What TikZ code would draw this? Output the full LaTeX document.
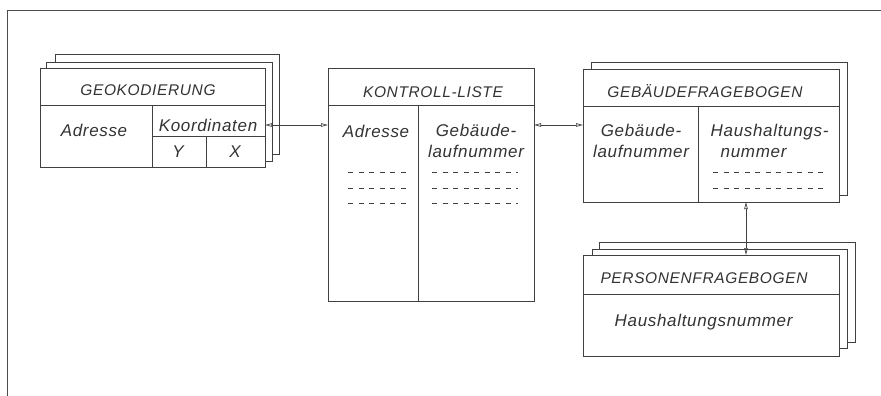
\documentclass[tikz,border=0pt]{standalone}
\usepackage{fontspec}
\newfontfamily\hand{Liberation Sans}[LetterSpace=4]
\usetikzlibrary{arrows.meta}

\begin{document}
\begin{tikzpicture}[x=1pt,y=-1pt,
    line width=0.7pt, draw=black!75,
    box/.style={draw=black!75, anchor=north west, outer sep=0pt, inner sep=0pt},
    sheet/.style={draw=black!75},
    head/.style={font=\hand\itshape\fontsize{15.5}{18}\selectfont, text=black!80},
    cell/.style={font=\hand\itshape\fontsize{17}{21}\selectfont, text=black!80, align=center},
    dots/.style={draw=black!75, dash pattern=on 5pt off 5.5pt},
    link/.style={draw=black!75, {Triangle[open,length=7pt,width=3.5pt]}-{Triangle[open,length=7pt,width=3.5pt]}}]
  \useasboundingbox (0,0) rectangle (881,396);
  \draw[black!70, line width=1pt] (881,11) -- (7,11) -- (7,396);

  % Geokodierung
  \draw[sheet] (55,62) -- (55,54) -- (279,54) -- (279,154) -- (272,154);
  \draw[sheet] (46,68) -- (46,62) -- (272,62) -- (272,161) -- (265,161);
  \node[box, minimum width=225pt, minimum height=99pt] (geo) at (40,68) {};
  \draw (40,105) -- (265,105);
  \draw (152,105) -- (152,167);
  \draw (152,136) -- (265,136);
  \draw (206,136) -- (206,167);
  \node[head] (geohead) at (148,90) {GEOKODIERUNG};
  \node[cell] (geoadr) at (94,130) {Adresse};
  \node[cell] (koord) at (208,125) {Koordinaten};
  \node[cell] (koy) at (178,152) {Y};
  \node[cell] (kox) at (235,152) {X};

  % Kontroll-Liste
  \node[box, minimum width=206pt, minimum height=233pt] (kon) at (328,68) {};
  \draw (328,105) -- (534,105);
  \draw (418,105) -- (418,301);
  \node[head] (konhead) at (433,92) {KONTROLL-LISTE};
  \node[cell] (konadr) at (376,131) {Adresse};
  \node[cell] (konlfd) at (476,141) {Gebäude-\\laufnummer};
  \foreach \y in {172,188,203} {
    \draw[dots] (348,\y) -- (407,\y);
    \draw[dots] (432,\y) -- (518,\y);
  }

  % Gebaeudefragebogen
  \draw[sheet] (591,69) -- (591,62) -- (847,62) -- (847,195) -- (839,195);
  \node[box, minimum width=256pt, minimum height=133pt] (geb) at (583,69) {};
  \draw (583,106) -- (839,106);
  \draw (698,106) -- (698,202);
  \node[head] (gebhead) at (705,91) {GEBÄUDEFRAGEBOGEN};
  \node[cell] (geblfd) at (641,141) {Gebäude-\\laufnummer};
  \node[cell, align=left, anchor=west] (gebhh) at (707,141) {Haushaltungs-\\\hspace*{10pt}nummer};
  \foreach \y in {172,188}
    \draw[dots] (713,\y) -- (827,\y);

  % Personenfragebogen
  \draw[sheet] (599,249) -- (599,242) -- (855,242) -- (855,342) -- (847,342);
  \draw[sheet] (592,255) -- (592,249) -- (847,249) -- (847,348) -- (839,348);
  \node[box, minimum width=256pt, minimum height=101pt] (pers) at (583,255) {};
  \draw (583,294) -- (839,294);
  \node[head] (pershead) at (704,278) {PERSONENFRAGEBOGEN};
  \node[cell, anchor=west] (pershh) at (611,322) {Haushaltungsnummer};

  % Verbindungen
  \draw[link] (koord.east -| geo.east) -- (koord.east -| kon.west);
  \draw[link] (koord.east -| kon.east) -- (koord.east -| geb.west);
  \draw[link] ([xshift=35pt]geb.south) -- ([xshift=35pt]pers.north);
\end{tikzpicture}
\end{document}
